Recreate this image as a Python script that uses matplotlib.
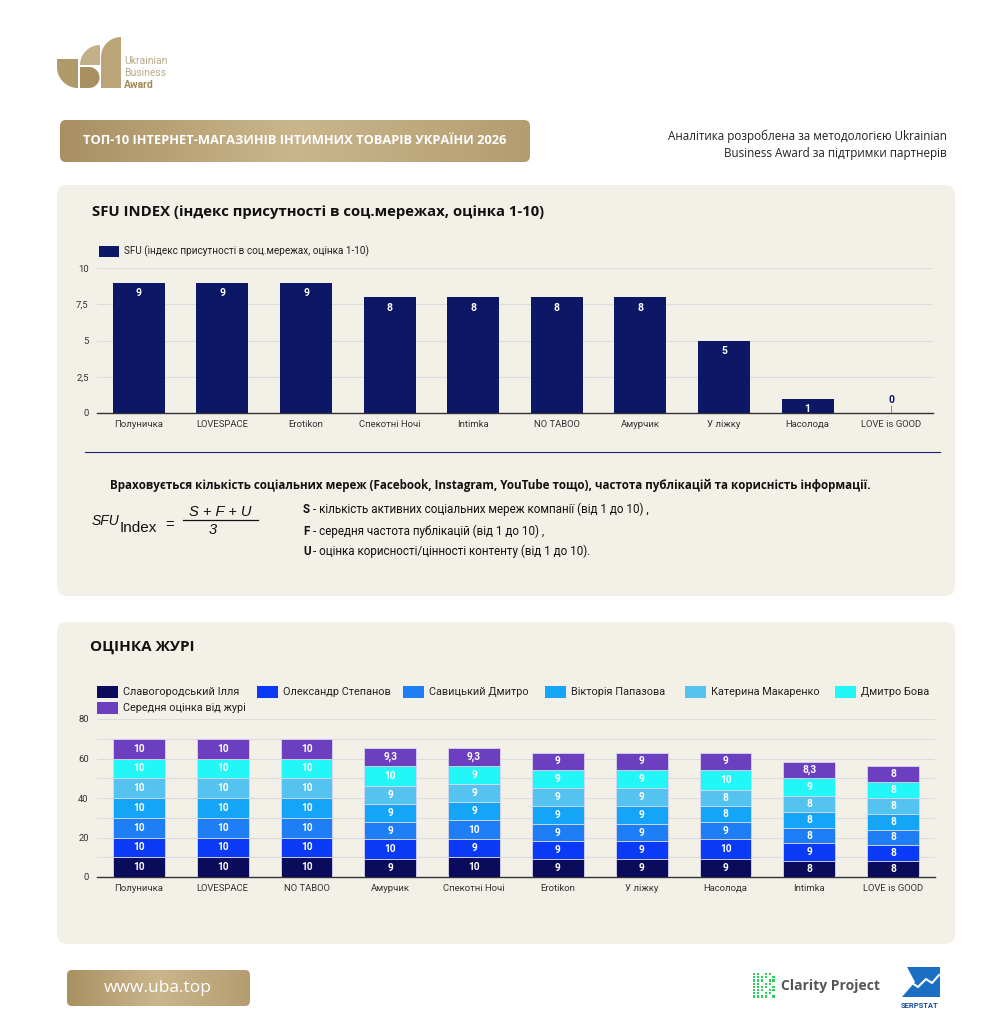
import matplotlib
matplotlib.use("Agg")
import matplotlib.pyplot as plt
import numpy as np
from matplotlib.patches import FancyBboxPatch, Rectangle, Polygon
from matplotlib.colors import LinearSegmentedColormap

# ---------------- data ----------------
sfu_shops = ["Полуничка", "LOVESPACE", "Erotikon", "Спекотні Ночі", "Intimka",
             "NO TABOO", "Амурчик", "У ліжку", "Насолода", "LOVE is GOOD"]
sfu_values = [9, 9, 9, 8, 8, 8, 8, 5, 1, 0]
sfu_series = "SFU (індекс присутності в соц.мережах, оцінка 1-10)"

jury_shops = ["Полуничка", "LOVESPACE", "NO TABOO", "Амурчик", "Спекотні Ночі",
              "Erotikon", "У ліжку", "Насолода", "Intimka", "LOVE is GOOD"]
jury_names = ["Славогородський Ілля", "Олександр Степанов", "Савицький Дмитро",
              "Вікторія Папазова", "Катерина Макаренко", "Дмитро Бова",
              "Середня оцінка від журі"]
slavohorodskyi = [10, 10, 10, 9, 10, 9, 9, 9, 8, 8]
stepanov       = [10, 10, 10, 10, 9, 9, 9, 10, 9, 8]
savytskyi      = [10, 10, 10, 9, 10, 9, 9, 9, 8, 8]
papazova       = [10, 10, 10, 9, 9, 9, 9, 8, 8, 8]
makarenko      = [10, 10, 10, 9, 9, 9, 9, 8, 8, 8]
bova           = [10, 10, 10, 10, 9, 9, 9, 10, 9, 8]
average        = [10, 10, 10, 9.3, 9.3, 9, 9, 9, 8.3, 8]
jury_values = [slavohorodskyi, stepanov, savytskyi, papazova, makarenko, bova, average]

sfu_yticks = [0, 2.5, 5, 7.5, 10]
jury_yticks = [0, 20, 40, 60, 80]

# ---------------- styles ----------------
W, H = 1004, 1024
PANEL = "#f3f0e8"
NAVY = "#0c1766"
jury_colors = ["#0b0b5c", "#0a3af5", "#1e7ef5", "#14a5f7", "#55c3ef", "#22f6f6", "#6b3fbf"]
GOLD1, GOLD2 = "#a89062", "#cbb68c"
FONT = ["Roboto", "DejaVu Sans"]
OS = ["Open Sans", "DejaVu Sans"]
plt.rcParams["font.family"] = FONT

fig = plt.figure(figsize=(W / 100, H / 100), dpi=100)
fig.patch.set_facecolor("white")

ov = fig.add_axes([0, 0, 1, 1])
ov.set_xlim(0, W)
ov.set_ylim(H, 0)
ov.axis("off")
ov.set_zorder(0)

def px_axes(x0, y0, x1, y1):
    return fig.add_axes([x0 / W, 1 - y1 / H, (x1 - x0) / W, (y1 - y0) / H])

def fmt(v):
    return ("%g" % v).replace(".", ",")

gold_cmap = LinearSegmentedColormap.from_list("gold", [GOLD1, GOLD2, "#b39d70"])

def gold_box(x0, y0, x1, y1, r=5):
    box = FancyBboxPatch((x0 + r, y0 + r), x1 - x0 - 2 * r, y1 - y0 - 2 * r,
                         boxstyle="round,pad=%d" % r, fc="none", ec="none")
    ov.add_patch(box)
    grad = np.linspace(0, 1, 256).reshape(1, -1)
    im = ov.imshow(grad, extent=(x0, x1, y1, y0), cmap=gold_cmap, aspect="auto", zorder=1)
    im.set_clip_path(box)

def arc(cx, cy, r, a0, a1, n=20):
    t = np.radians(np.linspace(a0, a1, n))
    return list(zip(cx + r * np.cos(t), cy + r * np.sin(t)))

# panels
for (y0, y1) in [(185, 596), (622, 944)]:
    ov.add_patch(FancyBboxPatch((57 + 10, y0 + 10), 898 - 20, y1 - y0 - 20,
                                boxstyle="round,pad=10", fc=PANEL, ec="none", zorder=0.5))

# ---------- logo ----------
# (y grows downward in the overlay; angle 90 = down, 180 = left, 270 = up)
shapeA = [(57, 59), (78, 59), (78, 88)] + arc(78, 67, 21, 90, 180)
ov.add_patch(Polygon(shapeA, closed=True, fc="#b09a6c", ec="none"))
shapeB1 = [(100, 65), (80, 65)] + arc(100, 65, 20, 180, 270)
ov.add_patch(Polygon(shapeB1, closed=True, fc="#c4b088", ec="none"))
shapeB2 = [(80, 67), (89, 67)] + arc(89, 77.5, 10.5, -90, 90) + [(80, 88)]
ov.add_patch(Polygon(shapeB2, closed=True, fc="#a88f60", ec="none"))
shapeC = [(121, 88), (101, 88), (101, 57)] + arc(121, 57, 20, 180, 270)
ov.add_patch(Polygon(shapeC, closed=True, fc="#bba578", ec="none"))
for txt, yy, w, c in [("Ukrainian", 61, "normal", "#b8aa8c"), ("Business", 73, "normal", "#b8aa8c"),
                      ("Award", 85, "bold", "#a48a55")]:
    ov.text(124, yy, txt, fontsize=7.5, color=c, fontweight=w, va="center", ha="left")

# ---------- header ----------
gold_box(60, 120, 530, 162, r=6)
ov.text(83, 141, "ТОП-10 ІНТЕРНЕТ-МАГАЗИНІВ ІНТИМНИХ ТОВАРІВ УКРАЇНИ 2026", color="white",
        fontsize=9.3, fontweight="bold", va="center", ha="left", zorder=3, family=OS)
ov.text(947, 136, "Аналітика розроблена за методологією Ukrainian", fontsize=8.4, ha="right",
        va="center", color="#222", family=OS)
ov.text(947, 154, "Business Award за підтримки партнерів", fontsize=8.4, ha="right",
        va="center", color="#222", family=OS)

# ---------- top panel ----------
ov.text(92, 212, "SFU INDEX (індекс присутності в соц.мережах, оцінка 1-10)", fontsize=10.7,
        fontweight="bold", va="center", ha="left", color="#111", family=OS)
ov.add_patch(Rectangle((99, 246), 20, 11, fc=NAVY, ec="none"))
ov.text(124, 251.5, sfu_series, fontsize=7.2, va="center", ha="left", color="#222")

ax1 = px_axes(97, 268, 933, 413)
ax1.set_facecolor("none")
x = np.arange(len(sfu_shops))
ax1.bar(x, sfu_values, width=0.62, color=NAVY, zorder=3)
for xi, v in zip(x, sfu_values):
    if v > 0:
        ax1.annotate(fmt(v), (xi, v), xytext=(0, -4), textcoords="offset points", ha="center",
                     va="top", color="white", fontsize=7.5, fontweight="bold", zorder=4)
    else:
        ax1.plot([xi, xi], [0, 0.45], color="#888", lw=0.7, zorder=4)
        ax1.annotate(fmt(v), (xi, 0.45), xytext=(0, 1), textcoords="offset points", ha="center",
                     va="bottom", color=NAVY, fontsize=7.5, fontweight="bold", zorder=4)
ax1.set_xlim(-0.5, len(sfu_shops) - 0.5)
ax1.set_ylim(0, 10)
ax1.set_yticks(sfu_yticks)
ax1.set_yticklabels([fmt(t) for t in sfu_yticks])
ax1.set_xticks(x)
ax1.set_xticklabels(sfu_shops)
ax1.tick_params(axis="both", length=0, labelsize=6.8, labelcolor="#333")
ax1.tick_params(axis="y", pad=6)
ax1.tick_params(axis="x", pad=5)
ax1.grid(axis="y", color="#dcdcdc", lw=0.8, zorder=0)
for s in ["top", "right", "left"]:
    ax1.spines[s].set_visible(False)
ax1.spines["bottom"].set_color("#333")
ax1.spines["bottom"].set_linewidth(1)

ov.plot([85, 940], [452, 452], color="#1a2370", lw=0.8, zorder=2)
ov.text(490, 485, "Враховується кількість соціальних мереж (Facebook, Instagram, YouTube тощо), частота публікацій та корисність інформації.",
        fontsize=8.4, fontweight="bold", ha="center", va="center", color="#111", family=OS)

# formula
ff = ["Liberation Sans", "DejaVu Sans"]
ov.text(92, 521, "SFU", fontsize=10, style="italic", ha="left", va="center", color="#111", family=ff)
ov.text(120, 528, "Index", fontsize=11, ha="left", va="center", color="#111", family=ff)
ov.text(165, 525, "=", fontsize=10.5, ha="left", va="center", color="#111", family=ff)
ov.text(220, 512, "S + F + U", fontsize=10.5, style="italic", ha="center", va="center", color="#111", family=ff)
ov.plot([183, 258], [520, 520], color="#111", lw=0.9)
ov.text(213, 530, "3", fontsize=10.5, style="italic", ha="center", va="center", color="#111", family=ff)

legend_lines = [("S", "- кількість активних соціальних мереж компанії (від 1 до 10) ,", 513),
                ("F", "- середня частота публікацій (від 1 до 10) ,", 535),
                ("U", "- оцінка корисності/цінності контенту (від 1 до 10).", 555)]
for letter, rest, yy in legend_lines:
    ov.text(303, yy, letter, fontsize=8.4, fontweight="bold", ha="left", va="baseline", color="#111")
    ov.text(313, yy, rest, fontsize=8.4, ha="left", va="baseline", color="#111")

# ---------- bottom panel ----------
ov.text(90, 647, "ОЦІНКА ЖУРІ", fontsize=11, fontweight="bold", ha="left", va="center",
        color="#111", family=OS)
leg_pos = [(97, 692), (257, 692), (403, 692), (545, 692), (685, 692), (835, 692), (97, 708)]
for (lx, ly), name, c in zip(leg_pos, jury_names, jury_colors):
    ov.add_patch(Rectangle((lx, ly - 6), 21, 12, fc=c, ec="none"))
    ov.text(lx + 26, ly, name, fontsize=7.8, ha="left", va="center", color="#222")

ax2 = px_axes(97, 719, 935, 877)
ax2.set_facecolor("none")
xj = np.arange(len(jury_shops))
bottom = np.zeros(len(jury_shops))
for vals, c in zip(jury_values, jury_colors):
    vals = np.array(vals, dtype=float)
    ax2.bar(xj, vals, bottom=bottom, width=0.62, color=c, edgecolor="#d8d6ee", linewidth=0.6, zorder=3)
    for xi, b, v in zip(xj, bottom, vals):
        ax2.text(xi, b + v / 2, fmt(v), ha="center", va="center", color="white",
                 fontsize=7.3, fontweight="bold", zorder=4)
    bottom += vals
ax2.set_xlim(-0.5, len(jury_shops) - 0.5)
ax2.set_ylim(0, 80)
ax2.set_yticks(jury_yticks)
ax2.set_yticks(np.arange(10, 80, 20), minor=True)
ax2.set_xticks(xj)
ax2.set_xticklabels(jury_shops)
ax2.tick_params(axis="both", which="both", length=0, labelsize=6.8, labelcolor="#333")
ax2.tick_params(axis="y", pad=6)
ax2.tick_params(axis="x", pad=5)
ax2.grid(axis="y", which="both", color="#dcdcdc", lw=0.8, zorder=0)
for s in ["top", "right", "left"]:
    ax2.spines[s].set_visible(False)
ax2.spines["bottom"].set_color("#333")
ax2.spines["bottom"].set_linewidth(1)

# ---------- footer ----------
gold_box(67, 970, 250, 1006, r=5)
ov.text(158, 988, "www.uba.top", color="white", fontsize=12.5, ha="center", va="center", zorder=3,
        family=OS)
# clarity project
for i in range(6):
    for j in range(8):
        if (i + j) % 3 != 2 or i < 2:
            ov.add_patch(Rectangle((753 + i * 3.9, 973 + j * 3.2), 2.4, 2.2, fc="#2ecf5a", ec="none"))
ov.text(781, 986, "Clarity Project", fontsize=10, color="#555", ha="left", va="center",
        fontweight="bold", family=OS)
# serpstat
ov.add_patch(Polygon([(907, 967), (940, 967), (940, 997), (902, 997), (915, 982)], closed=True,
                     fc="#1a6fc4", ec="none"))
ov.plot([904, 912, 918, 926, 932, 939], [990, 983, 987, 979, 983, 975], color="white", lw=1.5)
ov.text(920, 1005, "SERPSTAT", fontsize=5.5, fontweight="bold", color="#1a4f9c", ha="center", va="center")

fig.savefig("out.png", dpi=100, facecolor="white")
